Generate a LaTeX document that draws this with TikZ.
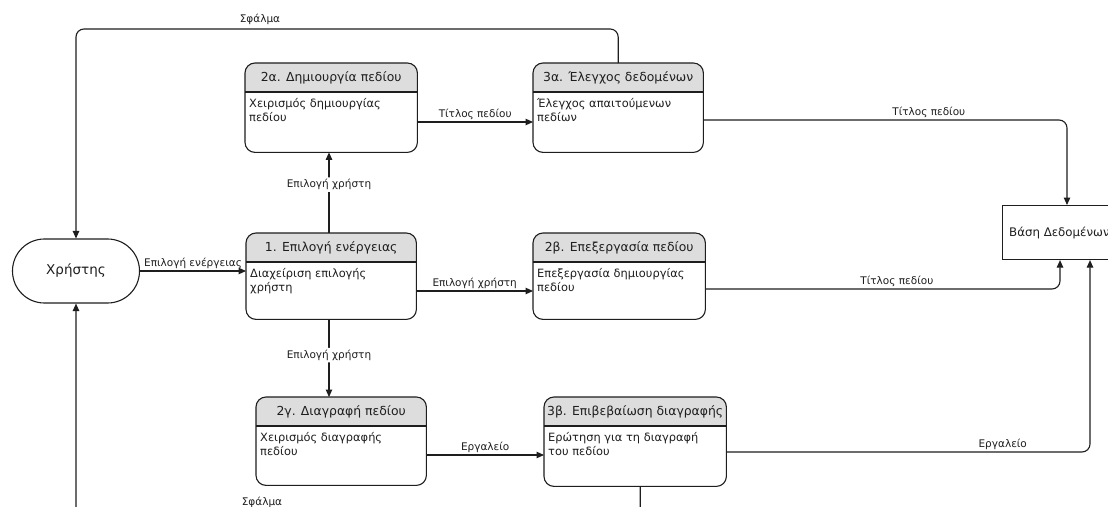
\documentclass[tikz,border=0pt]{standalone}
\usepackage{fontspec}
\setmainfont{DejaVu Sans}
\usetikzlibrary{arrows.meta,calc}
\definecolor{headfill}{HTML}{DDDDDD}
\definecolor{ink}{HTML}{1E1E1E}
\tikzset{
  boxline/.style={draw=ink, line width=1.1pt},
  flow/.style={draw=ink, line width=1.1pt, rounded corners=8pt,
    -{Triangle[length=7.5pt,width=6.5pt]}},
  flowlabel/.style={font=\fontsize{10.5}{12}\selectfont, text=ink, inner sep=1.5pt},
  onlinelabel/.style={flowlabel, fill=white, inner sep=2pt},
  boxtitle/.style={font=\fontsize{12.4}{14}\selectfont, text=ink, inner sep=0pt},
  boxbody/.style={font=\fontsize{11.4}{14}\selectfont, text=ink, inner sep=0pt,
    align=left, anchor=north west},
  terminal/.style={boxline, rounded corners=31.9pt, minimum width=127pt,
    minimum height=64pt, font=\fontsize{13.5}{15}\selectfont, text=ink},
  store/.style={boxline, minimum width=150pt, minimum height=54pt,
    anchor=north west, inner sep=0pt}
}
% process box: name, left x, top y, width, height, title, body
\newcommand{\procbox}[7]{%
  \node[minimum width=#4pt, minimum height=#5pt, inner sep=0pt,
        anchor=north west] (#1) at (#2,#3) {};
  \begin{scope}
    \clip[rounded corners=10pt] (#1.north west) rectangle (#1.south east);
    \fill[headfill] (#1.north west) rectangle ($(#1.north east)+(0,29)$);
  \end{scope}
  \draw[boxline] ($(#1.north west)+(0,29)$) -- ($(#1.north east)+(0,29)$);
  \draw[boxline, rounded corners=10pt] (#1.north west) rectangle (#1.south east);
  \node[boxtitle] (#1-t) at ($(#1.north)+(0,15)$) {#6};
  \node[boxbody] (#1-b) at ($(#1.north west)+(4,35)$) {#7};
}
\begin{document}
\begin{tikzpicture}[x=1pt, y=-1pt]
  \useasboundingbox (0,0) rectangle (1108,506);
  \clip (0,0) rectangle (1108,506);
  \fill[white] (0,0) rectangle (1108,506);

  % external entity and data store
  \node[terminal] (user) at (76,271) {Χρήστης};
  \node[store] (db) at (1002,205) {};
  \node[boxtitle, font=\fontsize{11.8}{14}\selectfont, anchor=west] (db-t)
    at ($(db.west)+(7,0)$) {Βάση Δεδομένων};

  % processes
  \procbox{p1}{246}{233}{170}{86}{1. Επιλογή ενέργειας}{Διαχείριση επιλογής\\χρήστη}
  \procbox{p2a}{245}{63}{172}{89}{2α. Δημιουργία πεδίου}{Χειρισμός δημιουργίας\\πεδίου}
  \procbox{p3a}{533}{63}{170}{89}{3α. Έλεγχος δεδομένων}{Έλεγχος απαιτούμενων\\πεδίων}
  \procbox{p2b}{533}{233}{172}{86}{2β. Επεξεργασία πεδίου}{Επεξεργασία δημιουργίας\\πεδίου}
  \procbox{p2c}{256}{397}{170}{88}{2γ. Διαγραφή πεδίου}{Χειρισμός διαγραφής\\πεδίου}
  \procbox{p3b}{544}{397}{182}{89}{3β. Επιβεβαίωση διαγραφής}{Ερώτηση για τη διαγραφή\\του πεδίου}

  % return paths for errors
  \coordinate (errtop) at (76,29);
  \coordinate (errbot) at (76,522);
  \draw[flow] (p3a.north) |- (errtop) -- (user.north);
  \node[flowlabel] (errtop-l) at (260,19) {Σφάλμα};
  \draw[flow] ($(p3b.south)+(5,0)$) |- (errbot) -- (user.south);
  \node[flowlabel] (errbot-l) at (262,502) {Σφάλμα};

  % data flows
  \draw[flow] (user.east) -- (user.east -| p1.west)
    node[flowlabel, above, pos=0.5] (f1) {Επιλογή ενέργειας};
  \draw[flow] (p1.north -| 329,0) -- (p2a.south -| 329,0)
    node[onlinelabel, pos=0.6] (f2) {Επιλογή χρήστη};
  \draw[flow] ($(p2a.north east)+(0,59)$) -- ($(p3a.north west)+(0,59)$)
    node[flowlabel, above, pos=0.5] (f3) {Τίτλος πεδίου};
  \draw[flow] ($(p1.north east)+(0,58)$) -- ($(p2b.north west)+(0,58)$)
    node[flowlabel, above, pos=0.5] (f4) {Επιλογή χρήστη};
  \draw[flow] ($(p3a.north east)+(0,57)$) -| ($(db.north west)+(65,0)$)
    node[flowlabel, above, pos=0.31] (f5) {Τίτλος πεδίου};
  \draw[flow] ($(p2b.north east)+(0,56)$) -| ($(db.south west)+(58,0)$)
    node[flowlabel, above, pos=0.27] (f6) {Τίτλος πεδίου};
  \draw[flow] (p1.south -| 329,0) -- (p2c.north -| 329,0)
    node[onlinelabel, pos=0.46] (f7) {Επιλογή χρήστη};
  \draw[flow] ($(p2c.north east)+(0,58)$) -- ($(p3b.north west)+(0,58)$)
    node[flowlabel, above, pos=0.5] (f8) {Εργαλείο};
  \draw[flow] ($(p3b.north east)+(0,55)$) -| ($(db.south west)+(88,0)$)
    node[flowlabel, above, pos=0.38] (f9) {Εργαλείο};
\end{tikzpicture}
\end{document}
